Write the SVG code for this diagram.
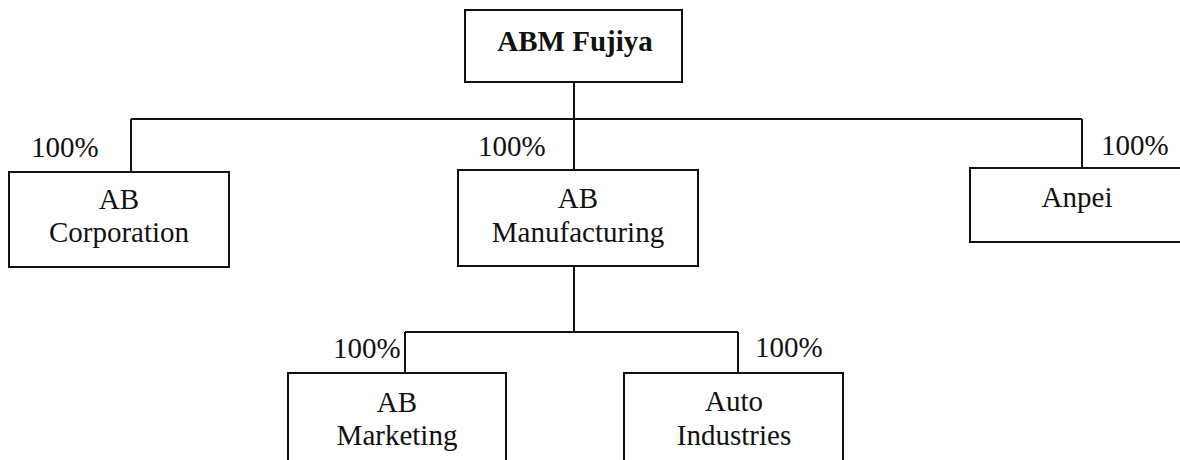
<svg xmlns="http://www.w3.org/2000/svg" width="1180" height="460" viewBox="0 0 1180 460" font-family="'Liberation Serif', Tinos, 'Times New Roman', 'DejaVu Serif', serif" font-size="29">
<style>
.box{fill:#fff;stroke:#111;stroke-width:2}
.ln{fill:none;stroke:#111;stroke-width:2}
text{fill:#111}
.c{text-anchor:middle}
.b{font-weight:bold}
</style>
<rect width="1180" height="460" fill="#fff"/>
<g id="connectors">
<path class="ln" d="M574 82 V119 M131 119 H1082 M131 119 V172 M574 119 V170 M1082 119 V168"/>
<path class="ln" d="M574 266 V332 M405 332 H738 M405 332 V373 M738 332 V373"/>
<text x="31" y="157">100%</text>
<text x="478" y="156">100%</text>
<text x="1101" y="155">100%</text>
<text x="333" y="358">100%</text>
<text x="755" y="357">100%</text>
</g>
<g id="abm-fujiya">
<rect class="box" x="465" y="10" width="217" height="72"/>
<text class="c b" x="575" y="51">ABM Fujiya</text>
</g>
<g id="ab-corporation">
<rect class="box" x="9" y="172" width="220" height="95"/>
<text class="c" x="119" y="209">AB</text>
<text class="c" x="119" y="242">Corporation</text>
</g>
<g id="ab-manufacturing">
<rect class="box" x="458" y="170" width="240" height="96"/>
<text class="c" x="578" y="208">AB</text>
<text class="c" x="578" y="242">Manufacturing</text>
</g>
<g id="anpei">
<rect class="box" x="970" y="168" width="220" height="74"/>
<text class="c" x="1077" y="207">Anpei</text>
</g>
<g id="ab-marketing">
<rect class="box" x="288" y="373" width="218" height="100"/>
<text class="c" x="397" y="412">AB</text>
<text class="c" x="397" y="445">Marketing</text>
</g>
<g id="auto-industries">
<rect class="box" x="624" y="373" width="219" height="100"/>
<text class="c" x="734" y="411">Auto</text>
<text class="c" x="734" y="445">Industries</text>
</g>
</svg>
